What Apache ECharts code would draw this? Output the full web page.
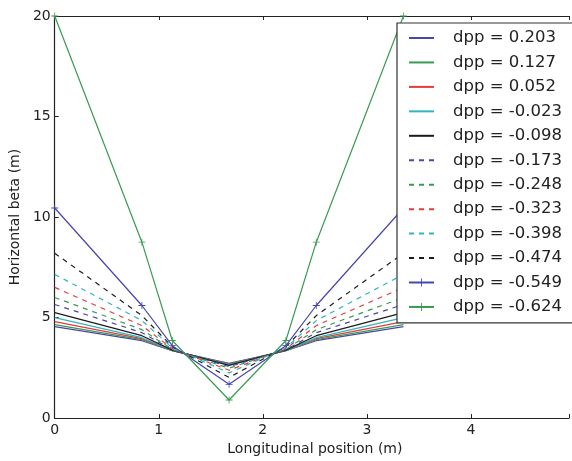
<!DOCTYPE html>
<html>
<head>
<meta charset="utf-8">
<script src="https://cdn.jsdelivr.net/npm/echarts@6/dist/echarts.min.js"></script>
<style>
html,body{margin:0;padding:0;background:#fff;}
#chart{width:572px;height:461px;}
</style>
</head>
<body>
<div id="chart"></div>
<script>
// Longitudinal positions (m) of the lattice points
const xPos = [0, 0.838, 1.13, 1.676, 2.222, 2.514, 3.352];

// Legend labels
const dppLabels = [
  'dpp = 0.203', 'dpp = 0.127', 'dpp = 0.052', 'dpp = -0.023', 'dpp = -0.098',
  'dpp = -0.173', 'dpp = -0.248', 'dpp = -0.323', 'dpp = -0.398', 'dpp = -0.474',
  'dpp = -0.549', 'dpp = -0.624'
];

// Horizontal beta (m) at each position, one array per dpp
const beta_p0203 = [4.55, 3.85, 3.35, 2.72, 3.35, 3.85, 4.55];
const beta_p0127 = [4.65, 3.9, 3.35, 2.7, 3.35, 3.9, 4.65];
const beta_p0052 = [4.8, 3.95, 3.36, 2.68, 3.36, 3.95, 4.8];
const beta_m0023 = [5.0, 4.0, 3.37, 2.65, 3.37, 4.0, 5.0];
const beta_m0098 = [5.25, 4.1, 3.38, 2.62, 3.38, 4.1, 5.25];
const beta_m0173 = [5.65, 4.25, 3.4, 2.56, 3.4, 4.25, 5.65];
const beta_m0248 = [6.0, 4.4, 3.42, 2.48, 3.42, 4.4, 6.0];
const beta_m0323 = [6.5, 4.6, 3.45, 2.38, 3.45, 4.6, 6.5];
const beta_m0398 = [7.15, 4.85, 3.5, 2.25, 3.5, 4.85, 7.15];
const beta_m0474 = [8.2, 5.1, 3.55, 2.02, 3.55, 5.1, 8.2];
const beta_m0549 = [10.45, 5.6, 3.6, 1.68, 3.6, 5.6, 10.45];
const beta_m0624 = [20.0, 8.75, 3.86, 0.9, 3.86, 8.75, 20.0];

const betaSets = [beta_p0203, beta_p0127, beta_p0052, beta_m0023, beta_m0098,
  beta_m0173, beta_m0248, beta_m0323, beta_m0398, beta_m0474, beta_m0549, beta_m0624];

// tick labels
const yTicks = [0, 5, 10, 15, 20];
const xTicks = [0, 1, 2, 3, 4];
// visible x range (the original figure is cropped at the right edge)
const X_MIN = 0, X_MAX = 4.943;

const C_B = '#4646ae', C_G = '#3a9a52', C_R = '#e23c3c', C_C = '#2fb6c0', C_K = '#1c1c1c';
const styles = [
  [C_B, 'solid', false], [C_G, 'solid', false], [C_R, 'solid', false], [C_C, 'solid', false], [C_K, 'solid', false],
  [C_B, [5, 5], false], [C_G, [5, 5], false], [C_R, [5, 5], false], [C_C, [5, 5], false], [C_K, [5, 5], false],
  [C_B, 'solid', true], [C_G, 'solid', true]
];
const plusPath = 'path://M4,0h1v9h-1zM0,4h9v1h-9z';

const series = betaSets.map((arr, i) => {
  const st = styles[i];
  return {
    name: dppLabels[i],
    type: 'line',
    data: xPos.map((x, j) => [x, arr[j]]),
    symbol: st[2] ? plusPath : 'none',
    symbolSize: 7,
    showSymbol: st[2],
    itemStyle: { color: st[0] },
    lineStyle: { color: st[0], width: 1.2, type: st[1] },
    emphasis: { disabled: true },
    z: 2 + i * 0.01
  };
});

const legendData = dppLabels.map((name, i) => {
  const st = styles[i];
  if (st[2]) return { name: name };
  return { name: name, itemStyle: { color: 'rgba(0,0,0,0)', borderColor: 'rgba(0,0,0,0)', borderWidth: 0 } };
});

// legend box geometry (frame drawn open on the right, clipped by the page edge)
const LG_LEFT = 397, LG_TOP = 23, LG_PAD = [5, 60, 6, 11], LG_ROW = 20, LG_GAP = 4.45;
const LG_BOTTOM = LG_TOP + LG_PAD[0] + dppLabels.length * LG_ROW + (dppLabels.length - 1) * LG_GAP + LG_PAD[2];

const chart = echarts.init(document.getElementById('chart'), null, { renderer: 'canvas' });
const font = 'DejaVu Sans';
const tickFmt = v => (xTicks.indexOf(v) >= 0 ? String(v) : '');
chart.setOption({
  animation: false,
  backgroundColor: '#fff',
  textStyle: { fontFamily: font },
  grid: { left: 53, top: 16, right: 0, bottom: 40, containLabel: false },
  xAxis: [{
    type: 'value', min: X_MIN, max: X_MAX, interval: 1, position: 'bottom',
    name: 'Longitudinal position (m)', nameLocation: 'middle', nameGap: 19,
    nameTextStyle: { fontFamily: font, fontSize: 14, color: '#222', padding: [0, 0, 0, 6] },
    axisLine: { show: true, lineStyle: { color: '#222', width: 1.2 } },
    axisTick: { show: true, inside: true, length: 4, lineStyle: { color: '#222' } },
    axisLabel: { fontFamily: font, fontSize: 14, color: '#222', margin: 5, formatter: tickFmt },
    splitLine: { show: false }
  }, {
    type: 'value', min: X_MIN, max: X_MAX, interval: 1, position: 'top',
    axisLine: { show: true, lineStyle: { color: '#222', width: 1.2 } },
    axisTick: { show: true, inside: true, length: 4, lineStyle: { color: '#222' } },
    axisLabel: { show: false },
    splitLine: { show: false }
  }],
  yAxis: {
    type: 'value', min: 0, max: 20, interval: 5,
    name: 'Horizontal beta (m)', nameLocation: 'middle', nameGap: 28,
    nameTextStyle: { fontFamily: font, fontSize: 14, color: '#222' },
    axisLine: { show: true, lineStyle: { color: '#222', width: 1.2 } },
    axisTick: { show: true, inside: true, length: 4, lineStyle: { color: '#222' } },
    axisLabel: { fontFamily: font, fontSize: 14, color: '#222', margin: 4,
      formatter: v => (yTicks.indexOf(v) >= 0 ? String(v) : '') },
    splitLine: { show: false }
  },
  legend: {
    data: legendData,
    orient: 'vertical',
    left: LG_LEFT, top: LG_TOP,
    padding: LG_PAD,
    itemWidth: 25, itemHeight: 10, itemGap: LG_GAP,
    backgroundColor: '#fff',
    borderWidth: 0,
    selectedMode: false,
    textStyle: { fontFamily: font, fontSize: 16.5, color: '#222', lineHeight: LG_ROW, padding: [0, 0, 0, 14] }
  },
  graphic: [{
    type: 'polyline', z: 100, silent: true,
    shape: { points: [[620, LG_TOP], [LG_LEFT, LG_TOP], [LG_LEFT, LG_BOTTOM], [620, LG_BOTTOM]] },
    style: { stroke: '#333', lineWidth: 1.2, fill: null }
  }],
  series: series
});
</script>
</body>
</html>
